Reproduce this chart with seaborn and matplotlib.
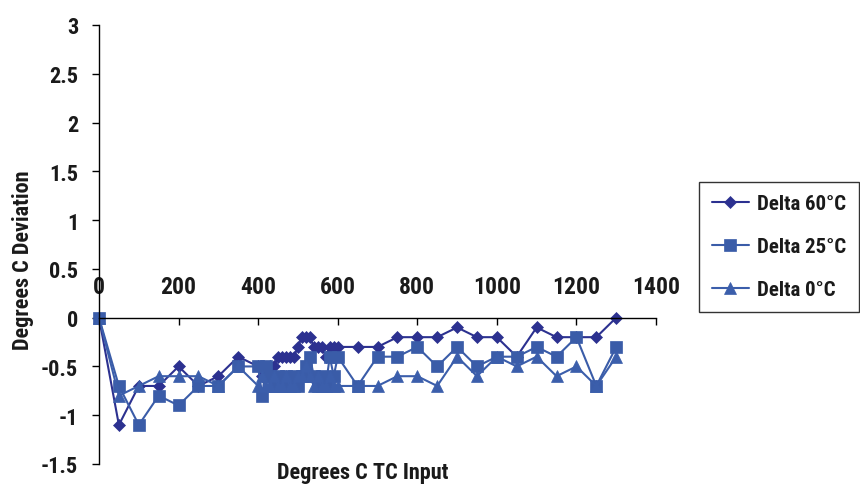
import numpy as np
import pandas as pd
import matplotlib.pyplot as plt
import seaborn as sns

# Thermocouple input (deg C) and the deviation read back at three ambient temperatures
tc_input = [0, 50, 100, 150, 200, 250, 300, 350, 400,
            410, 420, 430, 440, 450, 460, 470, 480, 490, 500,
            510, 520, 530, 540, 550, 560, 570, 580, 590, 600,
            650, 700, 750, 800, 850, 900, 950, 1000, 1050, 1100,
            1150, 1200, 1250, 1300]
delta_60 = [0, -1.1, -0.7, -0.7, -0.5, -0.7, -0.6, -0.4, -0.5,
            -0.6, -0.6, -0.5, -0.5, -0.4, -0.4, -0.4, -0.4, -0.4, -0.3,
            -0.2, -0.2, -0.2, -0.3, -0.3, -0.3, -0.4, -0.3, -0.3, -0.3,
            -0.3, -0.3, -0.2, -0.2, -0.2, -0.1, -0.2, -0.2, -0.4, -0.1,
            -0.2, -0.2, -0.2, 0]
delta_25 = [0, -0.7, -1.1, -0.8, -0.9, -0.7, -0.7, -0.5, -0.5,
            -0.8, -0.5, -0.6, -0.7, -0.6, -0.7, -0.6, -0.7, -0.6, -0.7,
            -0.6, -0.5, -0.4, -0.6, -0.7, -0.6, -0.7, -0.4, -0.6, -0.4,
            -0.7, -0.4, -0.4, -0.3, -0.5, -0.3, -0.5, -0.4, -0.4, -0.3,
            -0.4, -0.2, -0.7, -0.3]
delta_0 = [0, -0.8, -0.7, -0.6, -0.6, -0.6, -0.7, -0.5, -0.7,
           -0.6, -0.7, -0.7, -0.6, -0.7, -0.7, -0.6, -0.7, -0.7, -0.6,
           -0.6, -0.5, -0.6, -0.7, -0.6, -0.7, -0.7, -0.6, -0.7, -0.7,
           -0.7, -0.7, -0.6, -0.6, -0.7, -0.4, -0.6, -0.4, -0.5, -0.4,
           -0.6, -0.5, -0.7, -0.4]

series_names = ["Delta 60°C", "Delta 25°C", "Delta 0°C"]
x_ticks = [0, 200, 400, 600, 800, 1000, 1200, 1400]
y_ticks = [-1.5, -1, -0.5, 0, 0.5, 1, 1.5, 2, 2.5, 3]
y_tick_labels = ["-1.5", "-1", "-0.5", "0", "0.5", "1", "1.5", "2", "2.5", "3"]

sns.set_theme(style="white")
# narrow heavy face like the original; take whichever condensed family is present
plt.rcParams['font.family'] = ['Roboto Condensed', 'Liberation Sans Narrow', 'Roboto', 'DejaVu Sans']
plt.rcParams['font.weight'] = 'heavy'
text_color = '#1a1a1a'

fig, ax = plt.subplots(figsize=(8.6, 4.89), dpi=100)
fig.subplots_adjust(left=99 / 860, right=656 / 860, top=1 - 26 / 489, bottom=1 - 465 / 489)

styles = [
    (delta_60, "D", 6.2, "#2C3190"),
    (delta_25, "s", 8.2, "#3A5CA8"),
    (delta_0, "^", 8.7, "#3B5EAB"),
]
for name, (vals, marker, ms, color) in zip(series_names, styles):
    df = pd.DataFrame({"x": tc_input, "y": vals})
    sns.lineplot(data=df, x="x", y="y", ax=ax, color=color, linewidth=1.5,
                 marker=marker, markersize=ms, markeredgewidth=0.5,
                 markeredgecolor=color, label=name, clip_on=False)

ax.set_xlim(0, 1400)
ax.set_ylim(-1.5, 3)

# x axis drawn at y = 0 with the labels sitting above the line
ax.spines['right'].set_visible(False)
ax.spines['bottom'].set_visible(False)
ax.spines['top'].set_position(('data', 0))
for side in ['left', 'top']:
    ax.spines[side].set_color('black')
    ax.spines[side].set_linewidth(1.0)
ax.xaxis.set_ticks_position('top')
ax.set_xticks(x_ticks)
ax.set_xticklabels([str(t) for t in x_ticks])
ax.tick_params(axis='x', direction='in', length=5, width=1, color='black',
               pad=14, labelsize=17, labelcolor=text_color)
ax.set_yticks(y_ticks)
ax.set_yticklabels(y_tick_labels)
ax.tick_params(axis='y', direction='out', length=5, width=1, color='black',
               pad=10, labelsize=16, labelcolor=text_color, left=True)

ax.xaxis.set_label_position('bottom')
ax.set_xlabel("Degrees C TC Input", fontsize=16, fontweight='heavy', color=text_color)
ax.xaxis.set_label_coords(0.474, 0.007)
ax.xaxis.label.set_va('top')
ax.set_ylabel("Degrees C Deviation", fontsize=16, fontweight='heavy', color=text_color)
ax.yaxis.set_label_coords(-0.136, 0.467)
ax.yaxis.label.set_va('center')

handles, labels = ax.get_legend_handles_labels()
ax.get_legend().remove()
leg = fig.legend(handles, labels, loc='upper left', bbox_to_anchor=(699 / 860, 1 - 183 / 489),
                 borderaxespad=0, frameon=True, fancybox=False, edgecolor='black',
                 fontsize=15, handlelength=1.8, handletextpad=0.4, labelspacing=1.15,
                 borderpad=0.6)
leg.get_frame().set_linewidth(1.0)
for t in leg.get_texts():
    t.set_color(text_color)

fig.savefig("out.png", dpi=100)
